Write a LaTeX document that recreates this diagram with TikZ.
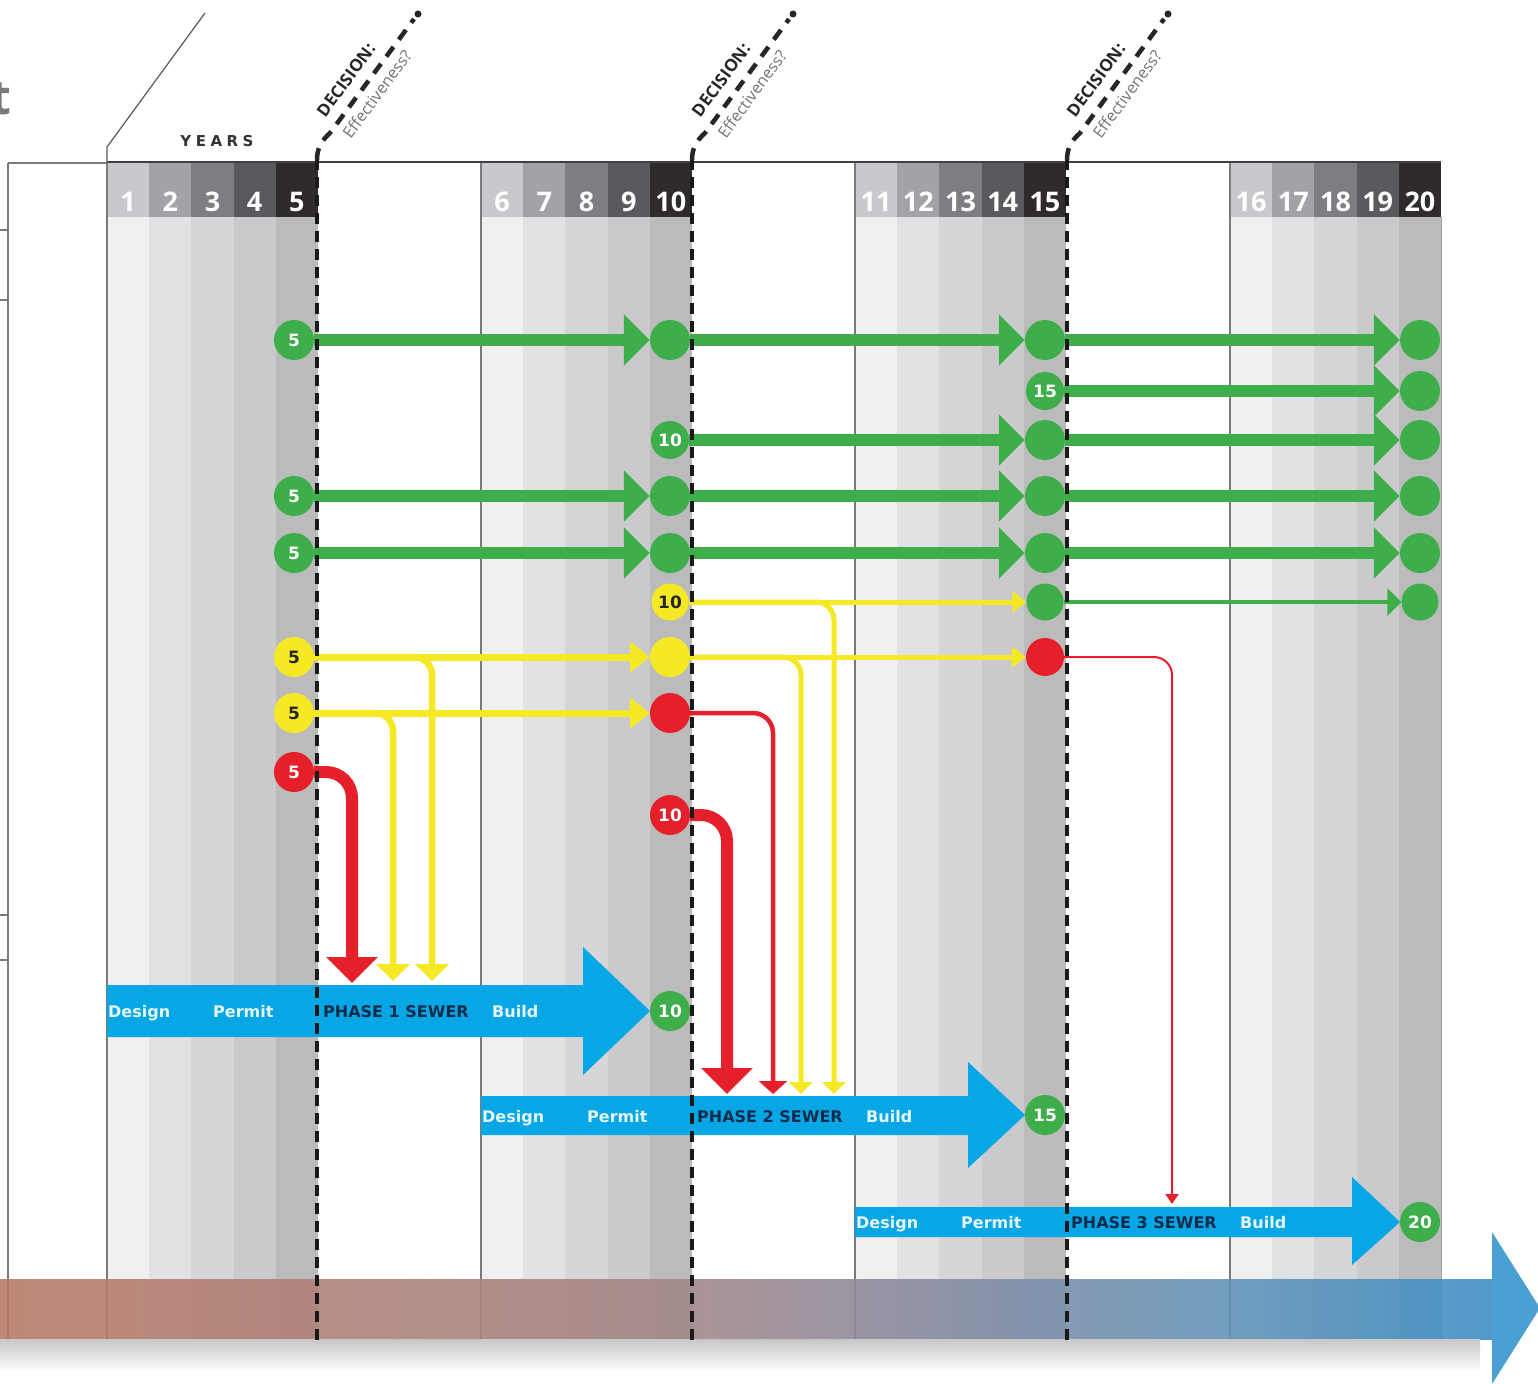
\documentclass[tikz,border=0pt]{standalone}
\usepackage{fontspec}
\setmainfont{Open Sans}
\newfontfamily\verd{DejaVu Sans}
\newfontfamily\ptsans{PT Sans}
\newfontfamily\spacedfont[LetterSpace=30]{DejaVu Sans}
\usetikzlibrary{arrows.meta}
\definecolor{cgreen}{HTML}{3DAE4A}
\definecolor{cyellow}{HTML}{F5E824}
\definecolor{cred}{HTML}{E5202A}
\definecolor{cblue}{HTML}{07A7E6}
\definecolor{cnavy}{HTML}{0F2B4C}
\definecolor{ctext}{HTML}{E6F6FD}
\definecolor{body0}{HTML}{F0F0F0}
\definecolor{body1}{HTML}{E2E2E4}
\definecolor{body2}{HTML}{D6D6D8}
\definecolor{body3}{HTML}{CACACC}
\definecolor{body4}{HTML}{BBBBBB}
\definecolor{head0}{HTML}{C9C9CD}
\definecolor{head1}{HTML}{A3A3A7}
\definecolor{head2}{HTML}{7E7E82}
\definecolor{head3}{HTML}{5A5A5E}
\definecolor{head4}{HTML}{2F2B2D}
\definecolor{bandA}{HTML}{B97C6A}
\definecolor{bandB}{HTML}{A48888}
\definecolor{bandC}{HTML}{8A8CA2}
\definecolor{bandD}{HTML}{6494B8}
\definecolor{bandE}{HTML}{3F90C6}
\definecolor{bandH}{HTML}{4AA0D2}
\definecolor{lineg}{HTML}{7A7A7A}
\pgfdeclarehorizontalshading{bandshade}{100bp}{color(0bp)=(bandA); color(25bp)=(bandA); color(47.5bp)=(bandB); color(56bp)=(bandC); color(66bp)=(bandD); color(75bp)=(bandE); color(100bp)=(bandE)}
\tikzset{
  circ/.style={circle, minimum size=40pt, inner sep=0pt, font=\verd\fontsize{17}{17}\selectfont\bfseries},
  gc/.style={circ, fill=cgreen, text=white},
  yc/.style={circ, fill=cyellow, text=black!85},
  rc/.style={circ, fill=cred, text=white},
  gthick/.style={draw=cgreen, line width=12pt, -{Triangle[length=26pt,width=50pt]}},
  gthin/.style={draw=cgreen, line width=4pt, -{Triangle[length=14pt,width=27pt]}},
  ymed/.style={draw=cyellow, line width=7pt, -{Triangle[length=20pt,width=30pt]}},
  ybr/.style={draw=cyellow, line width=6.5pt, rounded corners=18pt, -{Triangle[length=17pt,width=33pt]}},
  ythin/.style={draw=cyellow, line width=5pt, -{Triangle[length=14pt,width=21pt]}},
  ythinbr/.style={draw=cyellow, line width=5pt, rounded corners=18pt, -{Triangle[length=12pt,width=23pt]}},
  rthick/.style={draw=cred, line width=12pt, rounded corners=26pt, -{Triangle[length=26pt,width=50pt]}},
  rmed/.style={draw=cred, line width=4.5pt, rounded corners=20pt, -{Triangle[length=13pt,width=28pt]}},
  rthin/.style={draw=cred, line width=2pt, rounded corners=18pt, -{Triangle[length=10pt,width=13pt]}},
  yearnum/.style={text=white, font=\fontsize{27}{27}\selectfont\bfseries, inner sep=0pt},
  ptext/.style={anchor=base west, inner sep=0pt, text=ctext, font=\verd\fontsize{16}{16}\selectfont\bfseries},
  pname/.style={anchor=base west, inner sep=0pt, text=cnavy, font=\verd\fontsize{16}{16}\selectfont\bfseries},
  dashline/.style={draw=black!90, line width=3.5pt, dash pattern=on 11pt off 7pt},
  dashdiag/.style={draw=black!85, line width=4.5pt, dash pattern=on 12pt off 9pt},
  dectitle/.style={rotate=53.6, inner sep=0pt, text=black!85, font=\fontsize{17}{17}\selectfont\bfseries},
  deceff/.style={rotate=53.6, inner sep=0pt, text=black!55, font=\fontsize{16}{16}\selectfont},
  thinline/.style={draw=lineg, line width=1.2pt},
  phase/.style={fill=cblue},
}
\begin{document}
\begin{tikzpicture}[x=1pt,y=-1pt]
\useasboundingbox (0,0) rectangle (1538,1383);
\fill[white] (0,0) rectangle (1538,1383);

% columns
\foreach \s [count=\b from 0] in {107,481,855,1230} {
  \foreach \k in {0,...,4} {
    \pgfmathsetmacro\xa{\s+42.2*\k}
    \pgfmathsetmacro\xb{\s+42.2*(\k+1)}
    \pgfmathtruncatemacro\yr{\b*5+\k+1}
    \fill[body\k] (\xa,217) rectangle (\xb,1339);
    \fill[head\k] (\xa,163) rectangle (\xb,217);
    \node[yearnum] (yr\yr) at ({(\xa+\xb)/2},202) {\yr};
  }
  \draw[thinline] (\s,163) -- (\s,1339);
}
\draw[draw=lineg!70, line width=1pt] (1441,217) -- (1441,1339);
\draw[draw=black!75, line width=2pt] (107,162) -- (1441,162);

% left remnants
\node[anchor=east, inner sep=0pt, text=black!52, font=\fontsize{48}{48}\selectfont\bfseries] (tleft) at (12,99) {t};
\draw[thinline] (8,163) -- (8,1340);
\draw[thinline] (8,163) -- (107,163);
\foreach \yy in {230,300,915,960} { \draw[thinline] (0,\yy) -- (8,\yy); }
\draw[draw=black!65, line width=1.2pt] (107,163) -- (107,147) -- (205,13);
\node[inner sep=0pt, text=black!80, font=\spacedfont\fontsize{15}{15}\selectfont\bfseries] (years) at (217,141) {YEARS};

% bottom band
\shade[shading=bandshade, fill opacity=0.9] (0,1279) rectangle (1492,1339);
\fill[bandH] (1492,1232) -- (1540,1308) -- (1492,1384) -- cycle;
\shade[top color=black!22, bottom color=white] (0,1339) rectangle (1480,1372);

% phase arrows
\fill[phase] (107,985) -- (583,985) -- (583,947) -- (650,1011) -- (583,1075) -- (583,1037) -- (107,1037) -- cycle;
\fill[phase] (481,1096) -- (968,1096) -- (968,1062) -- (1025,1115) -- (968,1168) -- (968,1135) -- (481,1135) -- cycle;
\fill[phase] (855,1207) -- (1352,1207) -- (1352,1177) -- (1400,1222) -- (1352,1265) -- (1352,1237) -- (855,1237) -- cycle;
\foreach \s/\yy/\n in {107/1017/1,481/1122/2,855/1228/3} {
  \node[ptext] (des\n) at ({\s+1},\yy) {Design};
  \node[ptext] (per\n) at ({\s+106},\yy) {Permit};
  \node[pname] (phn\n) at ({\s+216},\yy) {PHASE \n\ SEWER};
  \node[ptext] (bld\n) at ({\s+385},\yy) {Build};
}
\node[gc] (p1) at (670,1011) {10};
\node[gc] (p2) at (1045,1115) {15};
\node[gc] (p3) at (1420,1222) {20};

% circles
\node[gc] (a1) at (294,340) {5};
\node[gc] (a2) at (670,340) {};
\node[gc] (a3) at (1045,340) {};
\node[gc] (a4) at (1420,340) {};
\node[gc, minimum size=38pt] (b3) at (1045,391) {15};
\node[gc] (b4) at (1420,391) {};
\node[gc, minimum size=38pt] (c2) at (670,440) {10};
\node[gc] (c3) at (1045,440) {};
\node[gc] (c4) at (1420,440) {};
\node[gc] (d1) at (294,496) {5};
\node[gc] (d2) at (670,496) {};
\node[gc] (d3) at (1045,496) {};
\node[gc] (d4) at (1420,496) {};
\node[gc] (e1) at (294,553) {5};
\node[gc] (e2) at (670,553) {};
\node[gc] (e3) at (1045,553) {};
\node[gc] (e4) at (1420,553) {};
\node[yc, minimum size=37pt] (f2) at (670,602) {10};
\node[gc, minimum size=37pt] (f3) at (1045,602) {};
\node[gc, minimum size=37pt] (f4) at (1420,602) {};
\node[yc] (g1) at (294,657) {5};
\node[yc] (g2) at (670,657) {};
\node[rc, minimum size=38pt] (g3) at (1045,657) {};
\node[yc] (h1) at (294,713) {5};
\node[rc] (h2) at (670,713) {};
\node[rc] (i1) at (294,772) {5};
\node[rc] (j2) at (670,815) {10};

% free ends of the downward connectors
\coordinate (t1a) at (352,983);
\coordinate (t1b) at (393,981);
\coordinate (t1c) at (432,981);
\coordinate (t2a) at (727,1094);
\coordinate (t2b) at (773,1094);
\coordinate (t2c) at (801,1094);
\coordinate (t2d) at (834,1094);
\coordinate (t3a) at (1172,1204);

% green connectors
\draw[gthick] (a1) -- (a2);
\draw[gthick] (a2) -- (a3);
\draw[gthick] (a3) -- (a4);
\draw[gthick] (b3) -- (b4);
\draw[gthick] (c2) -- (c3);
\draw[gthick] (c3) -- (c4);
\draw[gthick] (d1) -- (d2);
\draw[gthick] (d2) -- (d3);
\draw[gthick] (d3) -- (d4);
\draw[gthick] (e1) -- (e2);
\draw[gthick] (e2) -- (e3);
\draw[gthick] (e3) -- (e4);
\draw[gthin] (f3) -- (f4);

% yellow connectors
\draw[ythinbr] (f2) -| (t2d);
\draw[ythin] (f2) -- (f3);
\draw[ybr] (g1) -| (t1c);
\draw[ymed] (g1) -- (g2);
\draw[ythinbr] (g2) -| (t2c);
\draw[ythin] (g2) -- (g3);
\draw[ybr] (h1) -| (t1b);
\draw[ymed] (h1) -- (h2);

% red connectors
\draw[rthin] (g3) -| (t3a);
\draw[rmed] (h2) -| (t2b);
\draw[rthick] (i1) -| (t1a);
\draw[rthick] (j2) -| (t2a);

% decision lines and labels
\foreach \dx/\i in {0/1,375/2,750/3} {
  \draw[dashline] ({317+\dx},1340) -- ({317+\dx},160);
  \draw[dashdiag] ({317+\dx},160) .. controls ({317+\dx},149) and ({321+\dx},141) .. ({330+\dx},133) -- ({414+\dx},19);
  \node[circle, fill=black!85, inner sep=0pt, minimum size=7pt] (dot\i) at ({418+\dx},14) {};
  \node[dectitle] (dec\i) at ({346+\dx},80) {DECISION:};
  \node[deceff] (eff\i) at ({377+\dx},94) {Effectiveness?};
}
\end{tikzpicture}
\end{document}
